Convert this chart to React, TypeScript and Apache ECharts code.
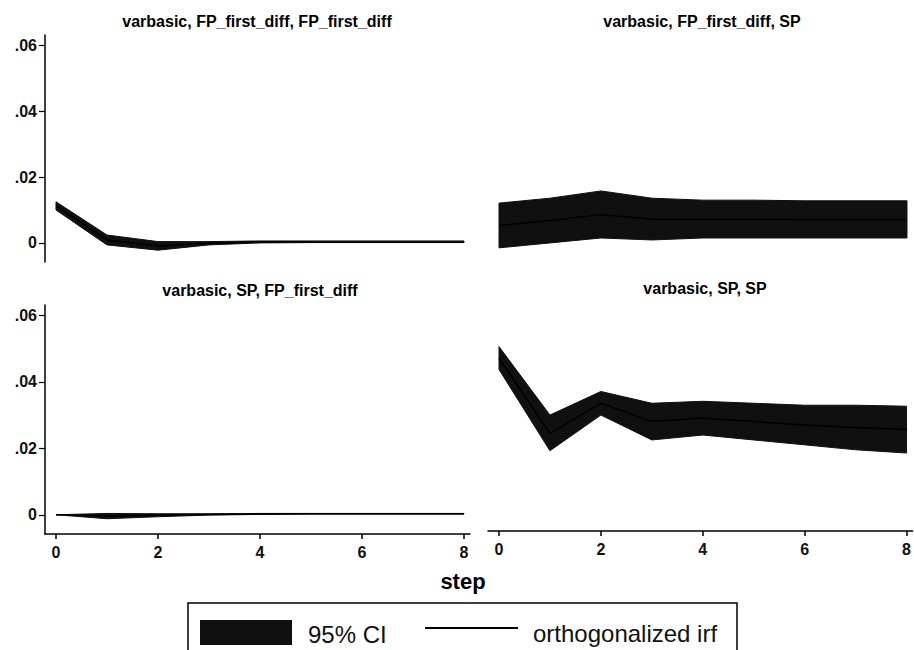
import React, { useEffect, useRef } from 'react';
import * as echarts from 'echarts';

const steps = [0, 1, 2, 3, 4, 5, 6, 7, 8];
const xTicks = [0, 2, 4, 6, 8];
const yTicks = [0, 0.02, 0.04, 0.06];

const panelTitles = [
  'varbasic, FP_first_diff, FP_first_diff',
  'varbasic, FP_first_diff, SP',
  'varbasic, SP, FP_first_diff',
  'varbasic, SP, SP',
];

// FP_first_diff -> FP_first_diff
const fpfpLower = [0.0100, -0.0006, -0.0022, -0.0006, 0.0000, 0.0001, 0.0001, 0.0001, 0.0001];
const fpfpUpper = [0.0125, 0.0024, 0.0004, 0.0004, 0.0006, 0.0006, 0.0006, 0.0006, 0.0006];
const fpfpIrf = [0.0113, 0.0009, -0.0009, -0.0001, 0.0003, 0.0003, 0.0003, 0.0003, 0.0003];

// FP_first_diff -> SP
const fpspLower = [-0.0015, 0.0000, 0.0015, 0.0009, 0.0015, 0.0015, 0.0015, 0.0015, 0.0015];
const fpspUpper = [0.0121, 0.0136, 0.0158, 0.0136, 0.0130, 0.0130, 0.0128, 0.0128, 0.0128];
const fpspIrf = [0.0053, 0.0068, 0.0086, 0.0072, 0.0072, 0.0072, 0.0071, 0.0071, 0.0071];

// SP -> FP_first_diff
const spfpLower = [0.0, -0.0012, -0.0006, -0.0001, 0.0001, 0.0002, 0.0002, 0.0002, 0.0002];
const spfpUpper = [0.0, 0.0004, 0.0003, 0.0003, 0.0004, 0.0004, 0.0004, 0.0004, 0.0004];
const spfpIrf = [0.0, -0.0004, -0.0001, 0.0001, 0.0002, 0.0003, 0.0003, 0.0003, 0.0003];

// SP -> SP
const spspLower = [0.0435, 0.0187, 0.0296, 0.0220, 0.0235, 0.0220, 0.0205, 0.0190, 0.0180];
const spspUpper = [0.0505, 0.0296, 0.0368, 0.0332, 0.0338, 0.0332, 0.0326, 0.0326, 0.0323];
const spspIrf = [0.0470, 0.0240, 0.0332, 0.0276, 0.0287, 0.0276, 0.0266, 0.0258, 0.0252];

const legendLabels = ['95% CI', 'orthogonalized irf'];
const xAxisName = 'step';

const FONT = '"Liberation Sans", Arial, sans-serif';
const BAND = '#101010';

const panels = [
  { title: panelTitles[0], lower: fpfpLower, upper: fpfpUpper, irf: fpfpIrf, left: 45, top: 35, height: 227, showX: false, showY: true, tx: 257, ty: 21 },
  { title: panelTitles[1], lower: fpspLower, upper: fpspUpper, irf: fpspIrf, left: 488, top: 35, height: 227, showX: false, showY: false, tx: 702, ty: 21 },
  { title: panelTitles[2], lower: spfpLower, upper: spfpUpper, irf: spfpIrf, left: 45, top: 305, height: 229, showX: true, showY: true, tx: 260, ty: 290 },
  { title: panelTitles[3], lower: spspLower, upper: spspUpper, irf: spspIrf, left: 488, top: 305, height: 226, showX: true, showY: false, tx: 705, ty: 288 },
];

function buildOption() {
  const grid: any[] = [];
  const xAxis: any[] = [];
  const yAxis: any[] = [];
  const series: any[] = [];
  const graphic: any[] = [];

  panels.forEach((p, i) => {
    grid.push({ left: p.left, top: p.top, width: 425, height: p.height, containLabel: false });
    xAxis.push({
      type: 'value',
      gridIndex: i,
      min: -0.216,
      max: 8.118,
      show: p.showX,
      splitLine: { show: false },
      axisLine: { show: true, onZero: false, lineStyle: { color: '#000', width: 1.5 } },
      axisTick: { show: true, customValues: xTicks, length: 5, lineStyle: { color: '#000', width: 1.5 } },
      axisLabel: {
        customValues: xTicks,
        margin: 10,
        color: '#111',
        fontSize: 16,
        fontWeight: 'bold',
        fontFamily: FONT,
      },
    });
    yAxis.push({
      type: 'value',
      gridIndex: i,
      min: -0.0058,
      max: 0.0632,
      show: p.showY,
      splitLine: { show: false },
      axisLine: { show: true, onZero: false, lineStyle: { color: '#000', width: 1.5 } },
      axisTick: { show: true, customValues: yTicks, length: 6, lineStyle: { color: '#000', width: 1.2 } },
      axisLabel: {
        customValues: yTicks,
        margin: 8,
        color: '#111',
        fontSize: 16,
        fontWeight: 'bold',
        fontFamily: FONT,
        formatter: (v: number) => (v === 0 ? '0' : v.toFixed(2).replace(/^0/, '')),
      },
    });

    const lower = p.lower;
    const upper = p.upper;
    series.push({
      type: 'custom',
      name: legendLabels[0],
      xAxisIndex: i,
      yAxisIndex: i,
      silent: true,
      data: [[steps[0], lower[0], upper[0]]],
      renderItem: (_params: any, api: any) => {
        const pts: number[][] = [];
        for (let k = 0; k < steps.length; k++) pts.push(api.coord([steps[k], upper[k]]));
        for (let k = steps.length - 1; k >= 0; k--) pts.push(api.coord([steps[k], lower[k]]));
        return {
          type: 'polygon',
          shape: { points: pts },
          style: { fill: BAND, stroke: BAND, lineWidth: 1 },
        };
      },
    });
    series.push({
      type: 'line',
      name: legendLabels[1],
      xAxisIndex: i,
      yAxisIndex: i,
      symbol: 'none',
      silent: true,
      data: steps.map((s, k) => [s, p.irf[k]]),
      lineStyle: { color: '#000', width: 1.5 },
      z: 3,
    });

    graphic.push({
      type: 'text',
      x: p.tx,
      y: p.ty,
      style: {
        text: p.title,
        fill: '#000',
        font: `bold 16px ${FONT}`,
        textAlign: 'center',
        textVerticalAlign: 'middle',
      },
    });
  });

  // axis title
  graphic.push({
    type: 'text',
    x: 463,
    y: 581,
    style: { text: xAxisName, fill: '#000', font: `bold 22px ${FONT}`, textAlign: 'center', textVerticalAlign: 'middle' },
  });

  // legend
  graphic.push({
    type: 'rect',
    shape: { x: 188, y: 603, width: 549, height: 70 },
    style: { fill: '#fff', stroke: '#000', lineWidth: 1.5 },
    z: 5,
  });
  graphic.push({
    type: 'rect',
    shape: { x: 200, y: 620, width: 92, height: 25 },
    style: { fill: BAND },
    z: 6,
  });
  graphic.push({
    type: 'text',
    x: 308,
    y: 634,
    style: { text: legendLabels[0], fill: '#111', font: `24px ${FONT}`, textAlign: 'left', textVerticalAlign: 'middle' },
    z: 6,
  });
  graphic.push({
    type: 'line',
    shape: { x1: 425, y1: 628, x2: 518, y2: 628 },
    style: { stroke: '#000', lineWidth: 1.8 },
    z: 6,
  });
  graphic.push({
    type: 'text',
    x: 533,
    y: 633,
    style: { text: legendLabels[1], fill: '#111', font: `24px ${FONT}`, textAlign: 'left', textVerticalAlign: 'middle' },
    z: 6,
  });

  return {
    animation: false,
    backgroundColor: '#fff',
    grid,
    xAxis,
    yAxis,
    series,
    graphic,
  };
}

export default function App() {
  const ref = useRef<HTMLDivElement>(null);
  useEffect(() => {
    if (!ref.current) return;
    const chart = echarts.init(ref.current, null, { renderer: 'svg' });
    chart.setOption(buildOption() as any);
    return () => chart.dispose();
  }, []);
  return (
    <div
      ref={ref}
      style={{ position: 'fixed', left: 0, top: 0, width: 914, height: 650, background: '#fff' }}
    />
  );
}
